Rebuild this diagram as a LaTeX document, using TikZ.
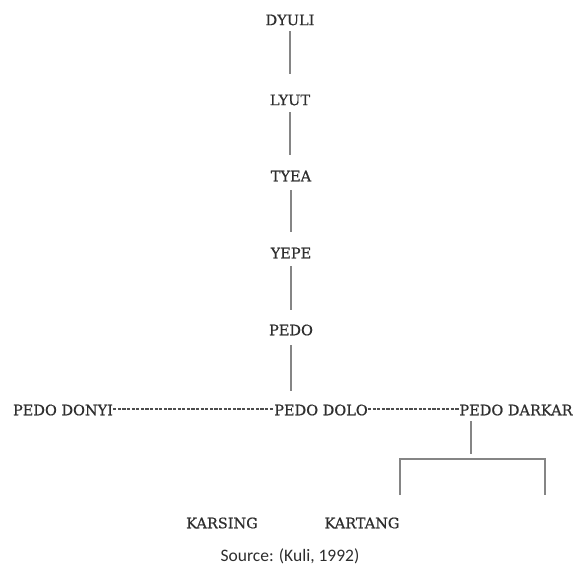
\documentclass[tikz,border=0pt]{standalone}
\usepackage{fontspec}
\setmainfont[FakeBold=0.6]{DejaVu Serif}
\newfontfamily\srcfont{Carlito}
\definecolor{txt}{HTML}{2E2E2E}
\definecolor{ln}{HTML}{858585}
\begin{document}
\begin{tikzpicture}[x=1pt,y=-1pt,
  lbl/.style={text=txt,font=\fontsize{14.5}{16}\selectfont,inner sep=2pt},
  conn/.style={draw=ln,line width=1.5pt},
  dconn/.style={draw=txt!85,line width=1.1pt,dash pattern=on 3.2pt off 1.4pt}]
\useasboundingbox (0,0) rectangle (574,571);
\node[lbl] (dyuli) at (290,20) {DYULI};
\node[lbl] (lyut) at (290,100) {LYUT};
\node[lbl] (tyea) at (291,176) {TYEA};
\node[lbl] (yepe) at (291,253) {YEPE};
\node[lbl] (pedo) at (291,330) {PEDO};
\node[lbl,inner sep=0pt] (donyi) at (63,410) {PEDO DONYI};
\node[lbl,inner sep=0pt] (dolo) at (321,410) {PEDO DOLO};
\node[lbl,inner sep=0pt] (darkar) at (516,410) {PEDO DARKAR};
\node[lbl] (karsing) at (222,523) {KARSING};
\node[lbl] (kartang) at (362,523) {KARTANG};
\node[text=txt,font=\srcfont\fontsize{17.5}{19}\selectfont] (src) at (290,556) {Source: (Kuli, 1992)};
\coordinate (pd) at (291,391);
\coordinate (dk1) at (471,421);
\coordinate (dk2) at (471,454);
\coordinate (bl1) at (400,495);
\coordinate (bl2) at (400,459);
\coordinate (br2) at (545,459);
\coordinate (br1) at (545,495);
\draw[conn] (290,31) -- (290,74);
\draw[conn] (290,112) -- (290,155);
\draw[conn] (291,190) -- (291,232);
\draw[conn] (291,266) -- (291,310);
\draw[conn] (291,345) -- (pd);
\draw[dconn] ([yshift=1pt]donyi.east) -- ([yshift=1pt]dolo.west);
\draw[dconn] ([yshift=1pt]dolo.east) -- ([yshift=1pt]darkar.west);
\draw[conn] (dk1) -- (dk2);
\draw[conn] (bl1) -- (bl2) -- (br2) -- (br1);
\end{tikzpicture}
\end{document}
